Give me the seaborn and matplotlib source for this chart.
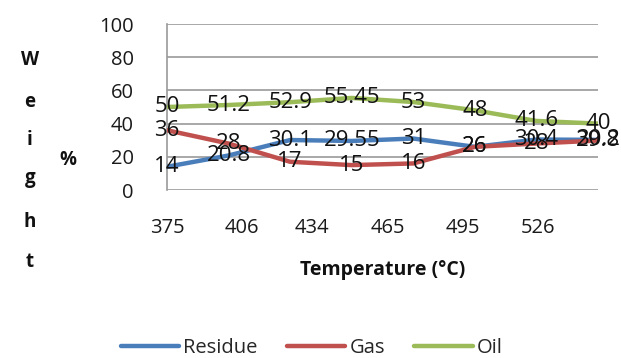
import numpy as np
import pandas as pd
import matplotlib
matplotlib.use("Agg")
import matplotlib.pyplot as plt
import seaborn as sns
from matplotlib.lines import Line2D

# ---- data ----
temp_labels = ["375", "406", "434", "465", "495", "526"]
point_index = [0, 1, 2, 3, 4, 5, 6, 7]
residue = [14, 20.8, 30.1, 29.55, 31, 26, 30.4, 30.2]
gas = [36, 28, 17, 15, 16, 26, 28, 29.8]
oil = [50, 51.2, 52.9, 55.45, 53, 48, 41.6, 40]
series_names = ["Residue", "Gas", "Oil"]
colors = ["#4A7EBB", "#C0504D", "#9BBB59"]
y_ticks = [0, 20, 40, 60, 80, 100]

sns.set_theme(style="white")
plt.rcParams["font.family"] = ["Open Sans", "DejaVu Sans"]

df = pd.DataFrame({
    "idx": point_index * 3,
    "val": residue + gas + oil,
    "series": ["Residue"] * 8 + ["Gas"] * 8 + ["Oil"] * 8,
})

fig = plt.figure(figsize=(6.21, 3.58), dpi=100)
ax = fig.add_axes([167 / 621, 1 - 190 / 358, (598 - 167) / 621, (190 - 24) / 358])

sns.lineplot(data=df, x="idx", y="val", hue="series", hue_order=series_names,
             palette=colors, linewidth=3.2, ax=ax, legend=False, zorder=3)

for vals in [residue, gas, oil]:
    for i, v in zip(point_index, vals):
        ax.text(i, v, f"{v:g}", ha="center", va="center", fontsize=16,
                color="#111111", zorder=5, clip_on=False)

ax.set_xlim(0, 7)
ax.set_ylim(0, 100)
ax.set_yticks(y_ticks)
ax.set_yticklabels([str(t) for t in y_ticks], fontsize=14.5, color="#1a1a1a")
tick_pos = [0, 1.22, 2.35, 3.59, 4.80, 6.03]
ax.set_xticks(tick_pos)
ax.set_xticklabels(temp_labels, fontsize=14.5, color="#1a1a1a")
ax.tick_params(axis="x", length=0, pad=20)
ax.tick_params(axis="y", length=0, pad=24)
ax.grid(axis="y", color="#9a9a9a", linewidth=1.2)
ax.grid(axis="x", visible=False)
for s in ["top", "right", "bottom"]:
    ax.spines[s].set_visible(False)
ax.spines["left"].set_color("#9a9a9a")
ax.spines["left"].set_linewidth(1.2)
ax.set_xlabel("Temperature (°C)", fontsize=14, fontweight="bold", labelpad=16,
              color="#111111")
ax.set_ylabel("")

# vertical stacked y label
letters = list("Weight")
ys = [60, 102, 140, 178, 222, 262]
for ch, yy in zip(letters, ys):
    fig.text(30 / 621, 1 - yy / 358, ch, ha="center", va="center",
             fontsize=13.5, fontweight="bold", color="#111111")
fig.text(68 / 621, 1 - 160 / 358, "%", ha="center", va="center",
         fontsize=13.5, fontweight="bold", color="#111111")

handles = [Line2D([0], [0], color=c, linewidth=3.2) for c in colors]
fig.legend(handles, series_names, loc="center", bbox_to_anchor=(0.502, 1 - 348 / 358),
           ncol=3, frameon=False, fontsize=14.5, handlelength=2.9,
           columnspacing=1.45, handletextpad=0.2)

fig.savefig("out.png", dpi=100)
